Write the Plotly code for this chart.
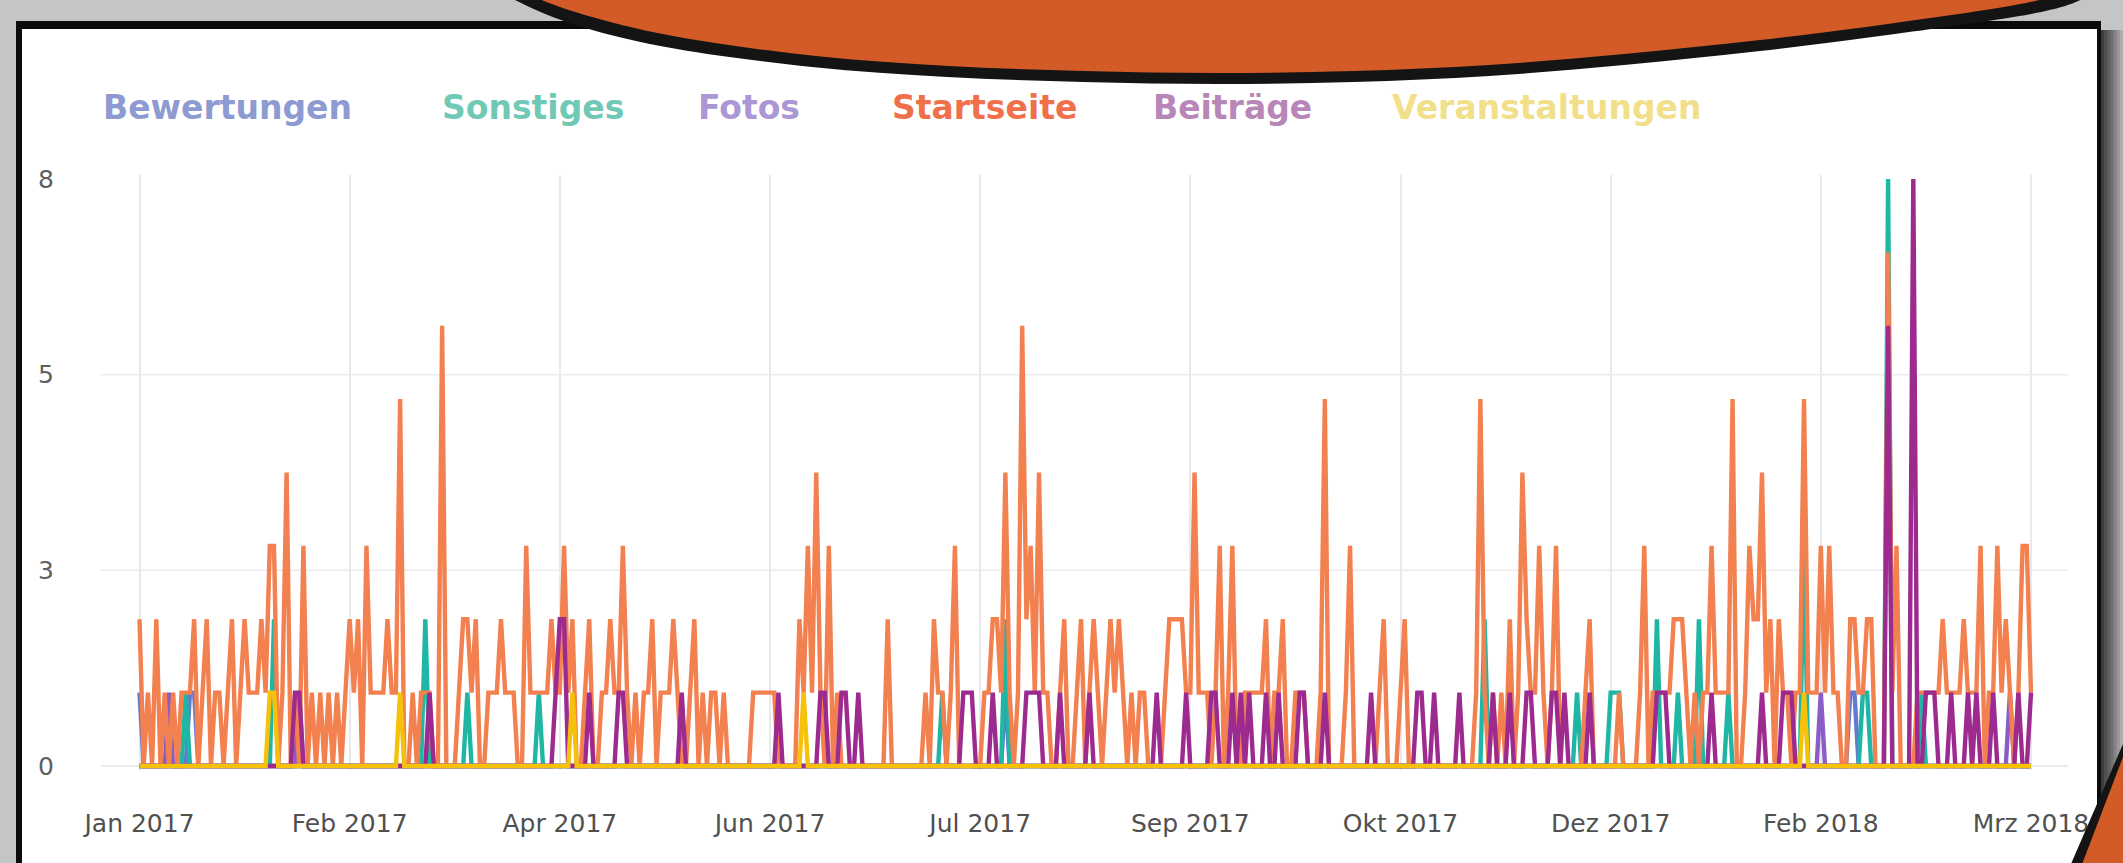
import pandas as pd
import plotly.graph_objects as go

# ---------------- data ----------------
START_DATE = "2017-01-02"
N_DAYS = 451

SERIES_NAMES = ["Bewertungen", "Sonstiges", "Fotos", "Startseite", "Beiträge", "Veranstaltungen"]

# Startseite: one digit per day, groups of 10 days
STARTSEITE_DIGITS = (
    "2010201010 1112012011 0120121112 1330140103 0101010101 "
    "2120311112 1150010111 0060001221 2001112111 0031111121 "
    "1312001200 1121131010 1120111210 0120101101 0000001111 "
    "1100000213 1410301000 0000000020 0000000102 1101300000 "
    "0112214101 6231411001 2001201210 1212101011 0000122221 "
    "1411101301 3001111120 1120011100 0150000130 0000012000 "
    "1200000000 0000000015 1010102014 2113101300 0000120000 "
    "0010000130 1111122210 1011311115 0013224120 2110115111 "
    "3131100221 1220007130 0001111112 1111211130 1131210133 "
    "1"
)
STARTSEITE = [int(c) for c in STARTSEITE_DIGITS if c.isdigit()]

# sparse series: day index (from START_DATE) and value, all other days are 0
BEWERTUNGEN_DAYS = [0, 12, 13, 206, 407, 408]
BEWERTUNGEN_VALS = [1, 1, 1, 1, 1, 1]

SONSTIGES_DAYS = [11, 32, 68, 78, 95, 191, 206, 320, 342, 350, 351, 352, 361, 366, 371, 378, 396, 410, 411, 416, 424]
SONSTIGES_VALS = [1, 2, 2, 1, 1, 1, 2, 2, 1, 1, 1, 1, 2, 1, 2, 1, 3, 1, 1, 8, 1]

FOTOS_DAYS = [7, 38, 400, 445]
FOTOS_VALS = [1, 1, 1, 1]

BEITRAEGE_DAYS = [37, 38, 69, 99, 100, 101, 107, 114, 115, 129, 152, 162, 163, 167, 168, 171,
                  196, 197, 198, 203, 211, 212, 213, 214, 219, 226, 242, 249, 255, 256, 260, 262,
                  264, 268, 271, 276, 277, 282, 293, 304, 305, 308, 314, 322, 326, 330, 331, 336,
                  337, 339, 345, 361, 362, 363, 374, 386, 391, 392, 393, 416, 422, 425, 426, 427,
                  431, 435, 437, 441, 447, 450]
BEITRAEGE_VALS = [1, 1, 1, 1, 2, 2, 1, 1, 1, 1, 1, 1, 1, 1, 1, 1,
                  1, 1, 1, 1, 1, 1, 1, 1, 1, 1, 1, 1, 1, 1, 1, 1,
                  1, 1, 1, 1, 1, 1, 1, 1, 1, 1, 1, 1, 1, 1, 1, 1,
                  1, 1, 1, 1, 1, 1, 1, 1, 1, 1, 1, 6, 8, 1, 1, 1,
                  1, 1, 1, 1, 1, 1]

VERANSTALTUNGEN_DAYS = [31, 32, 62, 103, 158, 396]
VERANSTALTUNGEN_VALS = [1, 1, 1, 1, 1, 1]

TICK_DAYS = [0, 50, 100, 150, 200, 250, 300, 350, 400, 450]
TICK_LABELS = ["Jan 2017", "Feb 2017", "Apr 2017", "Jun 2017", "Jul 2017",
               "Sep 2017", "Okt 2017", "Dez 2017", "Feb 2018", "Mrz 2018"]

Y_TICK_VALS = [0, 8 / 3, 16 / 3, 8]
Y_TICK_TEXT = ["0", "3", "5", "8"]

# ---------------- styles ----------------
LINE_COLORS = ["#6479d2", "#1fb6a4", "#8a5cc8", "#f3804f", "#9c2a8f", "#f5c10a"]
LEGEND_COLORS = ["#8e9bd3", "#70c9b5", "#ab97d6", "#f0704c", "#b986b8", "#f2df8a"]
LEGEND_X_PX = [101, 440, 696, 890, 1151, 1390]

W, H = 2123, 863
ML, MR, MT, MB = 101, 55, 175, 93
PW, PH = W - ML - MR, H - MT - MB


def px(x):
    return (x - ML) / PW


def py(y):
    return (H - MB - y) / PH


def expand(days, vals):
    out = [0] * N_DAYS
    for d, v in zip(days, vals):
        out[d] = v
    return out


dates = pd.date_range(START_DATE, periods=N_DAYS, freq="D")
series = [
    expand(BEWERTUNGEN_DAYS, BEWERTUNGEN_VALS),
    expand(SONSTIGES_DAYS, SONSTIGES_VALS),
    expand(FOTOS_DAYS, FOTOS_VALS),
    STARTSEITE,
    expand(BEITRAEGE_DAYS, BEITRAEGE_VALS),
    expand(VERANSTALTUNGEN_DAYS, VERANSTALTUNGEN_VALS),
]

fig = go.Figure()
for name, vals, col in zip(SERIES_NAMES, series, LINE_COLORS):
    fig.add_trace(go.Scatter(x=dates, y=vals, mode="lines", name=name,
                             line=dict(color=col, width=4.4), showlegend=False))

day_px = (2031 - 139.5) / 450.0
x0 = dates[0] - pd.Timedelta(days=(139.5 - ML) / day_px)
x1 = dates[-1] + pd.Timedelta(days=(ML + PW - 2031) / day_px)
y_per = (766 - 179) / 8.0
y_lo = -(770 - 766) / y_per
y_hi = 8 + (179 - 175) / y_per


def smooth(points):
    pts = points
    d = "M{:.5f},{:.5f}".format(px(pts[0][0]), py(pts[0][1]))
    n = len(pts)
    for i in range(n - 1):
        p0 = pts[i - 1] if i > 0 else pts[i]
        p1 = pts[i]
        p2 = pts[i + 1]
        p3 = pts[i + 2] if i + 2 < n else pts[i + 1]
        c1 = (p1[0] + (p2[0] - p0[0]) / 6, p1[1] + (p2[1] - p0[1]) / 6)
        c2 = (p2[0] - (p3[0] - p1[0]) / 6, p2[1] - (p3[1] - p1[1]) / 6)
        d += " C{:.5f},{:.5f} {:.5f},{:.5f} {:.5f},{:.5f}".format(
            px(c1[0]), py(c1[1]), px(c2[0]), py(c2[1]), px(p2[0]), py(p2[1]))
    return d


def poly(points):
    return "M" + " L".join("{:.5f},{:.5f}".format(px(a), py(b)) for a, b in points) + " Z"


shapes = []
# black frame and white panel
shapes.append(dict(type="rect", xref="paper", yref="paper", x0=px(16), x1=px(2101), y0=py(880), y1=py(21),
                   fillcolor="#0b0b0b", line=dict(width=0), layer="below"))
shapes.append(dict(type="rect", xref="paper", yref="paper", x0=px(22), x1=px(2097), y0=py(880), y1=py(29),
                   fillcolor="#ffffff", line=dict(width=0), layer="below"))
# right-hand shadow
shadow_cols = ["#3c3c3e", "#4d4d4f", "#5f5f61", "#727274", "#868688", "#9a9a9c", "#adadaf"]
for i, c in enumerate(shadow_cols):
    shapes.append(dict(type="rect", xref="paper", yref="paper", x0=px(2101 + i * 3.2), x1=px(2101 + (i + 1) * 3.2 + 0.5),
                       y0=py(880), y1=py(30), fillcolor=c, line=dict(width=0), layer="below"))
# horizontal grid lines
for v, c in zip([0, 8 / 3, 16 / 3], ["#e2e2ee", "#ececef", "#ececef"]):
    shapes.append(dict(type="line", xref="paper", yref="y", x0=0, x1=1, y0=v, y1=v,
                       line=dict(color=c, width=1.5), layer="below"))

# orange circle at the top with black rim
rim = [(480, -25), (515, 0), (582, 27), (677, 49), (812, 67), (947, 77), (1083, 82), (1218, 84),
       (1354, 82), (1489, 76), (1624, 65), (1760, 51), (1895, 34), (2031, 14), (2085, -2), (2105, -20)]
inner = [(494, -30), (528, -6), (592, 17), (684, 38), (816, 56), (949, 66), (1083, 71), (1218, 73),
         (1354, 71), (1489, 65), (1624, 54), (1760, 40), (1895, 23), (2026, 3), (2071, -12), (2089, -28)]
shapes.append(dict(type="path", xref="paper", yref="paper",
                   path=smooth(rim) + " L{:.5f},{:.5f} L{:.5f},{:.5f} Z".format(px(2105), py(-60), px(480), py(-60)),
                   fillcolor="#141414", line=dict(width=0), layer="above"))
shapes.append(dict(type="path", xref="paper", yref="paper",
                   path=smooth(inner) + " L{:.5f},{:.5f} L{:.5f},{:.5f} Z".format(px(2089), py(-60), px(494), py(-60)),
                   fillcolor="#d35b27", line=dict(width=0), layer="above"))
# bottom-right corner
shapes.append(dict(type="path", xref="paper", yref="paper",
                   path=poly([(2123, 744), (2130, 744), (2130, 880), (2064, 880)]),
                   fillcolor="#141414", line=dict(width=0), layer="above"))
shapes.append(dict(type="path", xref="paper", yref="paper",
                   path=poly([(2123, 757), (2130, 757), (2130, 880), (2076, 880)]),
                   fillcolor="#d35b27", line=dict(width=0), layer="above"))

annotations = []
for name, col, xl in zip(SERIES_NAMES, LEGEND_COLORS, LEGEND_X_PX):
    annotations.append(dict(xref="paper", yref="paper", x=px(xl), y=py(108), text=name,
                            xanchor="left", yanchor="middle", showarrow=False,
                            font=dict(family="DejaVu Sans", size=33, color=col, weight="bold")))

fig.update_layout(
    width=W, height=H, autosize=False,
    margin=dict(l=ML, r=MR, t=MT, b=MB, pad=0),
    paper_bgcolor="#c4c5c7", plot_bgcolor="rgba(0,0,0,0)",
    showlegend=False, shapes=shapes, annotations=annotations,
    xaxis=dict(type="date", range=[x0, x1], tickvals=[dates[d] for d in TICK_DAYS], ticktext=TICK_LABELS,
               showgrid=True, gridcolor="#e9e9ed", gridwidth=1.5, zeroline=False, showline=False,
               ticks="", ticklabelstandoff=36, automargin=False,
               tickfont=dict(family="DejaVu Sans", size=25, color="#505050")),
    yaxis=dict(range=[y_lo, y_hi], tickvals=Y_TICK_VALS, ticktext=Y_TICK_TEXT,
               showgrid=False, zeroline=False, showline=False, ticks="",
               ticklabelstandoff=46, automargin=False,
               tickfont=dict(family="DejaVu Sans", size=25, color="#606060")),
)

fig.write_html("out.html", config={"displayModeBar": False},
               post_script="document.body.style.margin='0';document.body.style.overflow='hidden';")
